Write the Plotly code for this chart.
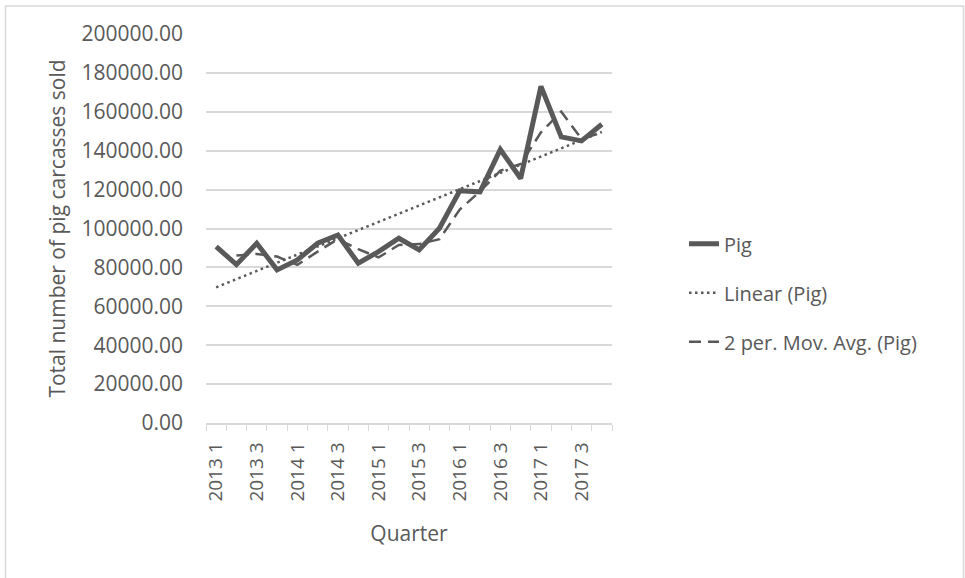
import numpy as np
import plotly.graph_objects as go

# ---- data ----
quarters = [f"{y} {q}" for y in range(2013, 2018) for q in range(1, 5)]
pig = [90670, 81440, 92410, 78720, 83850, 92400, 96670, 82150, 88100, 94970,
       88970, 100100, 119400, 118870, 140600, 125740, 173080, 147080, 145030, 153590]
tick_labels = [q if i % 2 == 0 else "" for i, q in enumerate(quarters)]
y_ticks = list(range(0, 200001, 20000))

# derived series (Excel trendline & 2-period moving average)
xi = np.arange(len(pig))
slope, intercept = np.polyfit(xi, pig, 1)
linear = list(slope * xi + intercept)
mov_avg = [None] + [(pig[i - 1] + pig[i]) / 2 for i in range(1, len(pig))]

GREY = "#595959"
FONT = "Open Sans"

fig = go.Figure()
fig.add_trace(go.Scatter(x=quarters, y=pig, mode="lines", name="Pig",
                         line=dict(color=GREY, width=5), legendgroup="a"))
fig.add_trace(go.Scatter(x=quarters, y=linear, mode="lines", name="Linear (Pig)",
                         line=dict(color=GREY, width=2.5, dash="2.5px,3.5px"), legendgroup="b"))
fig.add_trace(go.Scatter(x=quarters, y=mov_avg, mode="lines", name="2 per. Mov. Avg. (Pig)",
                         line=dict(color=GREY, width=2.5, dash="12px,7px"), legendgroup="c"))

L, T, W, H = 206, 33.5, 406, 390

def px(xp):
    return (xp - L) / W

def py(yp):
    return (T + H - yp) / H

fig.update_layout(
    width=965, height=578,
    margin=dict(l=L, r=965 - L - W, t=T, b=578 - T - H, pad=0),
    paper_bgcolor="white", plot_bgcolor="white",
    font=dict(family=FONT, color=GREY, size=20),
    showlegend=True,
    legend=dict(x=px(684), y=py(293), xanchor="left", yanchor="middle",
                font=dict(size=20, color=GREY), tracegroupgap=20,
                traceorder="grouped", bgcolor="rgba(0,0,0,0)"),
    xaxis=dict(
        type="category", range=[-0.5, len(quarters) - 0.5],
        tickmode="array", tickvals=quarters, ticktext=tick_labels,
        tickangle=-90, tickson="boundaries", ticks="outside", ticklen=6,
        tickcolor="#d9d9d9", showline=True, linecolor="#d9d9d9", linewidth=1.5,
        showgrid=False, tickfont=dict(size=19, color=GREY),
        title=dict(text="Quarter", font=dict(size=21, color=GREY), standoff=26),
        ticklabelstandoff=10,
    ),
    yaxis=dict(
        range=[0, 200000], tickmode="array", tickvals=y_ticks,
        tickformat=".2f", showgrid=True, gridcolor="#d9d9d9", gridwidth=1.5,
        zeroline=False, showline=False, ticks="",
        tickfont=dict(size=21, color=GREY), ticklabelstandoff=22,
        title=dict(text="Total number of pig carcasses sold",
                   font=dict(size=21, color=GREY), standoff=10),
    ),
    shapes=[dict(type="rect", xref="paper", yref="paper",
                 x0=px(5.5), x1=px(963.5), y0=py(600), y1=py(5.5),
                 line=dict(color="#d9d9d9", width=1.5), layer="below")],
)

fig.write_html("out.html")
